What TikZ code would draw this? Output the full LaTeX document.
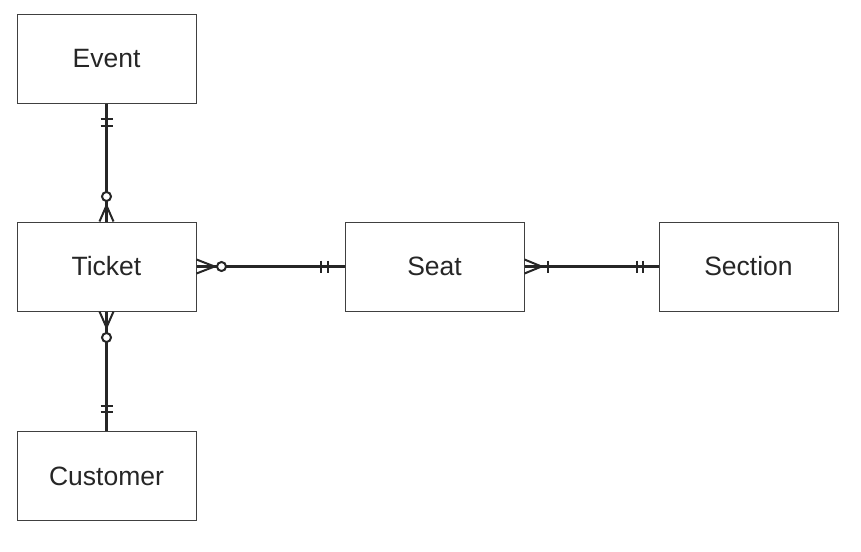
\documentclass[tikz,border=0pt]{standalone}
\usepackage{fontspec}
\setmainfont{Liberation Sans}
\usetikzlibrary{calc}
\begin{document}
\begin{tikzpicture}[x=1pt,y=-1pt,
  entity/.style={draw=black!75,line width=1pt,minimum width=179pt,minimum height=89pt,inner sep=0pt,font=\fontsize{26.5}{30}\selectfont,text=black!85},
  rel/.style={line width=2.2pt,black!85},
  mk/.style={line width=2pt,black!85}]
\useasboundingbox (0,0) rectangle (861,551);
\node[entity] (event) at (106.5,59) {Event};
\node[entity] (ticket) at (106.5,266.5) {Ticket};
\node[entity] (customer) at (106.5,476) {Customer};
\node[entity] (seat) at (434.5,266.5) {Seat};
\node[entity] (section) at (748.5,266.5) {Section};
% Event - Ticket
\draw[rel] (event.south) -- (ticket.north);
\draw[mk] ($(event.south)+(-6,15)$) -- ($(event.south)+(6,15)$);
\draw[mk] ($(event.south)+(-6,22)$) -- ($(event.south)+(6,22)$);
\draw[mk,fill=white] ($(ticket.north)+(0,-25)$) circle (4.5);
\draw[mk] ($(ticket.north)+(0,-16)$) -- ($(ticket.north)+(-7,0)$);
\draw[mk] ($(ticket.north)+(0,-16)$) -- ($(ticket.north)+(7,0)$);
% Ticket - Customer
\draw[rel] (ticket.south) -- (customer.north);
\draw[mk] ($(customer.north)+(-6,-25)$) -- ($(customer.north)+(6,-25)$);
\draw[mk] ($(customer.north)+(-6,-19)$) -- ($(customer.north)+(6,-19)$);
\draw[mk,fill=white] ($(ticket.south)+(0,26)$) circle (4.5);
\draw[mk] ($(ticket.south)+(0,16)$) -- ($(ticket.south)+(-7,0)$);
\draw[mk] ($(ticket.south)+(0,16)$) -- ($(ticket.south)+(7,0)$);
% Ticket - Seat
\draw[rel] (ticket.east) -- (seat.west);
\draw[mk,fill=white] ($(ticket.east)+(25,0)$) circle (4.5);
\draw[mk] ($(ticket.east)+(18,0)$) -- ($(ticket.east)+(0,-7)$);
\draw[mk] ($(ticket.east)+(18,0)$) -- ($(ticket.east)+(0,7)$);
\draw[mk] ($(seat.west)+(-24,-6)$) -- ($(seat.west)+(-24,6)$);
\draw[mk] ($(seat.west)+(-17,-6)$) -- ($(seat.west)+(-17,6)$);
% Seat - Section
\draw[rel] (seat.east) -- (section.west);
\draw[mk] ($(seat.east)+(17,0)$) -- ($(seat.east)+(0,-7)$);
\draw[mk] ($(seat.east)+(17,0)$) -- ($(seat.east)+(0,7)$);
\draw[mk] ($(seat.east)+(23,-6)$) -- ($(seat.east)+(23,6)$);
\draw[mk] ($(section.west)+(-22,-6)$) -- ($(section.west)+(-22,6)$);
\draw[mk] ($(section.west)+(-16,-6)$) -- ($(section.west)+(-16,6)$);
\end{tikzpicture}
\end{document}
